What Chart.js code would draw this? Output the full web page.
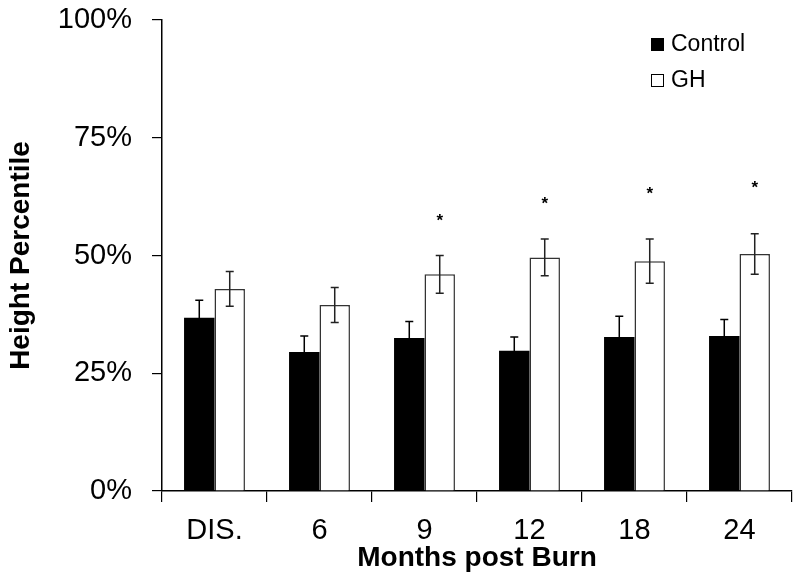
<!DOCTYPE html>
<html>
<head>
<meta charset="utf-8">
<script src="https://cdn.jsdelivr.net/npm/chart.js@4/dist/chart.umd.min.js"></script>
<style>
	html, body { margin: 0; padding: 0; background: #fff; }
	#wrap { width: 800px; height: 587px; }
</style>
</head>
<body>
<div id="wrap"><canvas id="height-chart"></canvas></div>
<script>
// values (percentile)
const categories = [ 'DIS.', '6', '9', '12', '18', '24' ];
const controlMean = [ 36.8, 29.5, 32.5, 29.8, 32.7, 32.9 ];
const controlErr = [ 3.7, 3.4, 3.5, 2.9, 4.4, 3.5 ];
const ghMean = [ 42.9, 39.5, 46.0, 49.6, 48.8, 50.3 ];
const ghErr = [ 3.7, 3.7, 4.0, 3.9, 4.7, 4.3 ];
// level of the significance star (null = none)
const starLevel = [ null, null, 57.9, 61.6, 63.7, 65.0 ];
const yTicks = [ 0, 25, 50, 75, 100 ];

const fontFamily = '"Liberation Sans", Arial, sans-serif';

// error bars on top of each bar
const errorBars = {
	id: 'errorBars',
	afterDatasetsDraw( chart ) {
		const ctx = chart.ctx;
		const y = chart.scales.y;
		ctx.save();
		chart.data.datasets.forEach( ( ds, di ) => {
			const meta = chart.getDatasetMeta( di );
			meta.data.forEach( ( bar, i ) => {
				const v = ds.data[ i ];
				const e = ds.errors[ i ];
				const top = y.getPixelForValue( v + e );
				const bot = y.getPixelForValue( v - e );
				ctx.strokeStyle = ds.errorColor;
				ctx.lineWidth = 1.5;
				ctx.beginPath();
				ctx.moveTo( bar.x, top );
				ctx.lineTo( bar.x, bot );
				ctx.moveTo( bar.x - 4, top );
				ctx.lineTo( bar.x + 4, top );
				ctx.moveTo( bar.x - 4, bot );
				ctx.lineTo( bar.x + 4, bot );
				ctx.stroke();
			} );
		} );

		// stars over the GH bars
		const ghMeta = chart.getDatasetMeta( 1 );
		ctx.fillStyle = '#000';
		ctx.font = 'bold 17px ' + fontFamily;
		ctx.textAlign = 'center';
		ctx.textBaseline = 'middle';
		starLevel.forEach( ( s, i ) => {
			if ( s === null ) return;
			ctx.fillText( '*', ghMeta.data[ i ].x, y.getPixelForValue( s ) + 3 );
		} );
		ctx.restore();
	},
};

// small legend in the top right corner
const cornerLegend = {
	id: 'cornerLegend',
	afterDraw( chart ) {
		const ctx = chart.ctx;
		ctx.save();
		ctx.font = '23px ' + fontFamily;
		ctx.textBaseline = 'middle';
		ctx.textAlign = 'left';
		chart.data.datasets.forEach( ( ds, i ) => {
			const cy = 45 + i * 36;
			ctx.fillStyle = ds.backgroundColor;
			ctx.fillRect( 651, cy - 7, 13, 13 );
			ctx.strokeStyle = '#000';
			ctx.lineWidth = 1;
			ctx.strokeRect( 651.5, cy - 6.5, 12, 12 );
			ctx.fillStyle = '#000';
			ctx.fillText( ds.label, 671, cy );
		} );
		ctx.restore();
	},
};

new Chart( document.getElementById( 'height-chart' ), {
	type: 'bar',
	data: {
		labels: categories,
		datasets: [
			{
				label: 'Control',
				data: controlMean,
				errors: controlErr,
				errorColor: '#000',
				backgroundColor: '#000000',
				borderColor: '#000000',
				borderWidth: 0,
			},
			{
				label: 'GH',
				data: ghMean,
				errors: ghErr,
				errorColor: '#222',
				backgroundColor: '#ffffff',
				borderColor: '#333333',
				borderWidth: 1.5,
			},
		],
	},
	options: {
		responsive: true,
		maintainAspectRatio: false,
		animation: false,
		layout: { padding: { top: 20, right: 8, left: 0, bottom: 0 } },
		plugins: {
			legend: { display: false },
			tooltip: { enabled: false },
		},
		datasets: {
			bar: { categoryPercentage: 0.58, barPercentage: 1.0 },
		},
		scales: {
			x: {
				afterFit: scale => { scale.height = 96; },
				grid: {
					drawOnChartArea: false,
					offset: true,
					tickLength: 11,
					color: '#000',
					lineWidth: 1.2,
				},
				border: { color: '#000', width: 1.5 },
				ticks: {
					color: '#000',
					padding: 12,
					font: { family: fontFamily, size: 29 },
				},
				title: {
					display: true,
					text: 'Months post Burn',
					color: '#000',
					padding: { top: 0, bottom: 12 },
					font: { family: fontFamily, size: 28, weight: 'bold' },
				},
			},
			y: {
				min: 0,
				max: 100,
				afterFit: scale => {
					scale.width = 162;
					scale.paddingTop = 0;
					scale.paddingBottom = 0;
				},
				afterBuildTicks: scale => {
					scale.ticks = yTicks.map( v => ( { value: v } ) );
				},
				grid: {
					drawOnChartArea: false,
					tickLength: 10,
					color: '#000',
					lineWidth: 1.2,
				},
				border: { color: '#000', width: 1.5 },
				ticks: {
					color: '#000',
					padding: 20,
					font: { family: fontFamily, size: 29 },
					callback: v => v + '%',
				},
				title: {
					display: true,
					text: 'Height Percentile',
					color: '#000',
					padding: { top: 4, bottom: 0 },
					font: { family: fontFamily, size: 28, weight: 'bold' },
				},
			},
		},
	},
	plugins: [ errorBars, cornerLegend ],
} );
</script>
</body>
</html>
